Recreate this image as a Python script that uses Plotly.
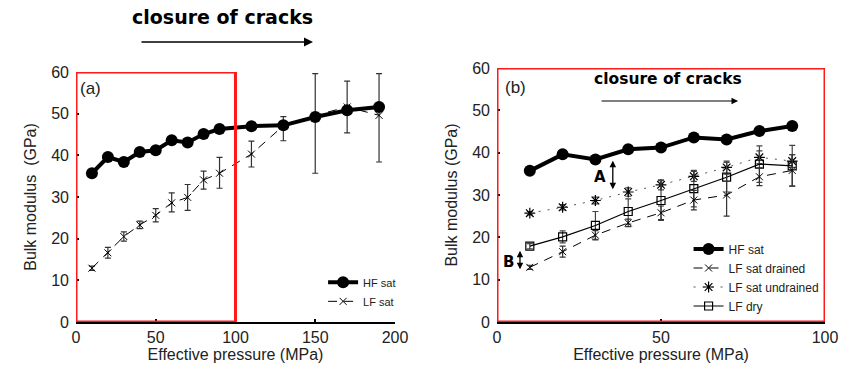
import plotly.graph_objects as go

# ---------------- data ----------------
pressure_left = [10, 20, 30, 40, 50, 60, 70, 80, 90, 110, 130, 150, 170, 190]
hf_sat_left = [35.7, 39.6, 38.4, 40.8, 41.2, 43.6, 43.1, 45.1, 46.3, 47.0, 47.2, 49.2, 50.8, 51.6]
lf_sat_left = [12.9, 16.6, 20.5, 23.3, 25.6, 28.6, 29.9, 34.1, 35.7, 40.3, 47.1, 49.6, 51.6, 49.6]
lf_sat_err_plus = [0.5, 1.3, 1.1, 0.9, 1.6, 2.4, 3.1, 2.1, 3.8, 3.1, 2.2, 10.0, 6.2, 10.0]
lf_sat_err_minus = [0.5, 1.3, 1.1, 0.9, 1.6, 2.2, 3.1, 2.2, 3.6, 3.1, 3.6, 13.9, 6.2, 11.2]

pressure_right = [10, 20, 30, 40, 50, 60, 70, 80, 90]
hf_sat_right = [35.7, 39.6, 38.4, 40.8, 41.2, 43.6, 43.1, 45.1, 46.3]
lf_drained = [12.9, 16.6, 20.5, 23.4, 25.8, 28.8, 30.0, 34.3, 35.8]
lf_drained_err = [0.5, 1.3, 1.1, 0.9, 1.6, 2.3, 5.0, 2.1, 3.7]
lf_undrained = [25.7, 27.1, 28.7, 30.7, 32.4, 34.4, 36.5, 38.9, 38.0]
lf_undrained_err = [0.4, 0.6, 0.8, 1.0, 1.2, 1.2, 1.5, 1.5, 1.5]
lf_dry = [17.9, 20.1, 22.8, 26.1, 28.7, 31.5, 34.2, 37.3, 36.9]
lf_dry_err = [0.6, 1.4, 3.3, 3.0, 4.7, 4.3, 3.5, 4.3, 4.8]

x_ticks_left = [0, 50, 100, 150, 200]
x_ticks_right = [0, 50, 100]
y_ticks = [0, 10, 20, 30, 40, 50, 60]

FONT = "Liberation Sans, Arial, sans-serif"
BOLD = "DejaVu Sans, Verdana, sans-serif"

fig = go.Figure()

# ---------------- left panel ----------------
fig.add_trace(go.Scatter(
    x=pressure_left, y=lf_sat_left, name="LF sat", mode="lines+markers",
    line=dict(color="black", width=1, dash="9px,7px"),
    marker=dict(symbol="x-thin-open", size=7, color="black", line=dict(width=1, color="black")),
    error_y=dict(type="data", array=lf_sat_err_plus, arrayminus=lf_sat_err_minus,
                 color="#333333", thickness=1.2, width=3),
    xaxis="x", yaxis="y", legend="legend"))
fig.add_trace(go.Scatter(
    x=pressure_left, y=hf_sat_left, name="HF sat", mode="lines+markers",
    line=dict(color="black", width=4),
    marker=dict(symbol="circle", size=12, color="black"),
    xaxis="x", yaxis="y", legend="legend"))

# ---------------- right panel ----------------
fig.add_trace(go.Scatter(
    x=pressure_right, y=lf_undrained, name="LF sat undrained", mode="lines+markers",
    line=dict(color="#555555", width=1, dash="2px,7px"),
    marker=dict(symbol="asterisk-open", size=9, color="black", line=dict(width=1.2, color="black")),
    error_y=dict(type="data", array=lf_undrained_err, color="#444444", thickness=1.2, width=3),
    xaxis="x2", yaxis="y2", legend="legend2", legendrank=3))
fig.add_trace(go.Scatter(
    x=pressure_right, y=lf_dry, name="LF dry", mode="lines+markers",
    line=dict(color="black", width=1.2),
    marker=dict(symbol="square-open", size=8, color="black", line=dict(width=1.2, color="black")),
    error_y=dict(type="data", array=lf_dry_err, color="#444444", thickness=1.2, width=3),
    xaxis="x2", yaxis="y2", legend="legend2", legendrank=4))
fig.add_trace(go.Scatter(
    x=pressure_right, y=lf_drained, name="LF sat drained", mode="lines+markers",
    line=dict(color="black", width=1, dash="9px,7px"),
    marker=dict(symbol="x-thin-open", size=7, color="black", line=dict(width=1, color="black")),
    error_y=dict(type="data", array=lf_drained_err, color="#333333", thickness=1.2, width=3),
    xaxis="x2", yaxis="y2", legend="legend2", legendrank=2))
fig.add_trace(go.Scatter(
    x=pressure_right, y=hf_sat_right, name="HF sat", mode="lines+markers",
    line=dict(color="black", width=4),
    marker=dict(symbol="circle", size=12, color="black"),
    xaxis="x2", yaxis="y2", legend="legend2", legendrank=1))

axis_common = dict(
    showgrid=False, zeroline=False, ticks="inside", ticklen=3, tickwidth=2, tickcolor="black",
    tickfont=dict(family=FONT, size=16, color="#222222"),
    title_font=dict(family=FONT, size=16, color="#222222"),
    automargin=False,
)

fig.update_layout(
    width=848, height=381,
    margin=dict(l=0, r=0, t=0, b=0, autoexpand=False),
    paper_bgcolor="white", plot_bgcolor="white",
    xaxis=dict(domain=[0.0896, 0.4658], range=[0, 200], tickvals=x_ticks_left,
               showline=True, linecolor="black", linewidth=2, anchor="y",
               title=dict(text="Effective pressure (MPa)", standoff=0), **axis_common),
    yaxis=dict(domain=[0.155, 0.811], range=[0, 60], tickvals=y_ticks, anchor="x",
               showline=False, ticklabelstandoff=6,
               title=dict(text="Bulk modulus\u00a0 (GPa)", standoff=10), **axis_common),
    xaxis2=dict(domain=[0.5861, 0.9729], range=[0, 100], tickvals=x_ticks_right,
                showline=True, linecolor="black", linewidth=2, anchor="y2",
                title=dict(text="Effective pressure (MPa)", standoff=0), **axis_common),
    yaxis2=dict(domain=[0.155, 0.8215], range=[0, 60], tickvals=y_ticks, anchor="x2",
                showline=False, ticklabelstandoff=6,
                title=dict(text="Bulk modulus (GPa)", standoff=10), **axis_common),
    legend=dict(x=0.381, y=0.297, xanchor="left", yanchor="top", bgcolor="rgba(0,0,0,0)",
                font=dict(family=FONT, size=11, color="#222222"), traceorder="reversed",
                itemwidth=30, tracegroupgap=0),
    legend2=dict(x=0.812, y=0.3845, xanchor="left", yanchor="top", bgcolor="rgba(0,0,0,0)",
                 font=dict(family=FONT, size=12, color="#222222"), traceorder="normal",
                 itemwidth=30),
    showlegend=True,
)

# red rectangles
fig.add_shape(type="rect", xref="x", yref="y", x0=0, x1=100, y0=0, y1=60,
              line=dict(color="#ff1a1a", width=3), layer="above")
fig.add_shape(type="rect", xref="x2", yref="y2", x0=0, x1=100, y0=0, y1=60,
              line=dict(color="#ff1a1a", width=3), layer="above")

# annotations
fig.add_annotation(xref="paper", yref="paper", x=222 / 848, y=1 - 17 / 381,
                   xanchor="center", yanchor="middle",
                   text="<b>closure of cracks</b>", showarrow=False,
                   font=dict(family=BOLD, size=19, color="black"))
fig.add_annotation(xref="paper", yref="paper", x=313 / 848, y=1 - 42 / 381, ax=-173, ay=0,
                   text="", showarrow=True, arrowhead=2, arrowsize=1.2, arrowwidth=1.5,
                   arrowcolor="black")
fig.add_annotation(xref="x", yref="y", x=9, y=56, text="(a)", showarrow=False,
                   font=dict(family=FONT, size=17, color="#222222"))

fig.add_annotation(xref="x2", yref="y2", x=52, y=57.3, xanchor="center",
                   text="<b>closure of cracks</b>", showarrow=False,
                   font=dict(family=BOLD, size=15.5, color="black"))
fig.add_annotation(xref="x2", yref="y2", x=73.5, y=52.2, ax=-138, ay=0,
                   text="", showarrow=True, arrowhead=2, arrowsize=1.1, arrowwidth=1.2,
                   arrowcolor="black")
fig.add_annotation(xref="x2", yref="y2", x=5.5, y=55.3, text="(b)", showarrow=False,
                   font=dict(family=FONT, size=17, color="#222222"))

fig.add_annotation(xref="x2", yref="y2", x=35.3, y=38.1, ax=0, ay=30,
                   text="", showarrow=True, arrowhead=2, startarrowhead=2,
                   arrowside="end+start", arrowsize=1, arrowwidth=1.3, arrowcolor="black")
fig.add_annotation(xref="x2", yref="y2", x=31.3, y=34.3, text="<b>A</b>", showarrow=False,
                   font=dict(family=BOLD, size=15, color="black"))
fig.add_annotation(xref="x2", yref="y2", x=7.0, y=16.8, ax=0, ay=20,
                   text="", showarrow=True, arrowhead=2, startarrowhead=2,
                   arrowside="end+start", arrowsize=1, arrowwidth=1.3, arrowcolor="black")
fig.add_annotation(xref="x2", yref="y2", x=3.4, y=14.2, text="<b>B</b>", showarrow=False,
                   font=dict(family=BOLD, size=15, color="black"))

fig.write_html("out.html")
